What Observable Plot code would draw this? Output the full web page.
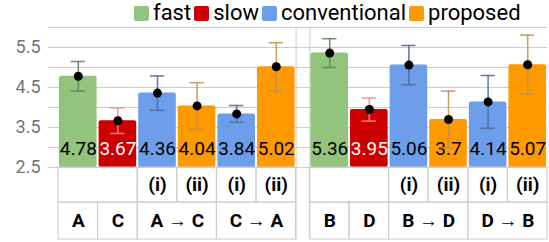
<!DOCTYPE html>
<html><head><meta charset="utf-8">
<script src="https://cdn.jsdelivr.net/npm/d3@7"></script>
<script src="https://cdn.jsdelivr.net/npm/@observablehq/plot@0.6"></script>
<style>
body{margin:0;background:#fff;font-family:Roboto,sans-serif;}
#legend{height:26px;width:549px;display:flex;align-items:center;padding-left:134px;box-sizing:border-box;}
.sw{width:15px;height:15px;border-radius:2px;margin-right:4px;flex:none;}
.lab{font-size:22px;line-height:26px;margin-right:3px;color:#000;white-space:nowrap;}
#chart svg{display:block;}
</style></head><body>
<div id="legend"></div>
<div id="chart"></div>
<script>
const seriesNames = ["fast","slow","conventional","proposed"];
const seriesColors = ["#93c47d","#cc0000","#6d9eeb","#ff9900"];
const errorColors = ["#61805a","#f08c8c","#4d6996","#c0914f"];
const barSeries = ["fast","slow","conventional","proposed","conventional","proposed"];
const leftValues = [4.78,3.67,4.36,4.04,3.84,5.02];
const leftErrors = [0.37,0.32,0.43,0.58,0.21,0.6];
const rightValues = [5.36,3.95,5.06,3.7,4.14,5.07];
const rightErrors = [0.36,0.29,0.49,0.71,0.66,0.74];
const subLabels = ["","(i)","(ii)","(i)","(ii)"];
const subSpans = [2,1,1,1,1];
const leftGroups = ["A","C","A → C","C → A"];
const rightGroups = ["B","D","B → D","D → B"];
const groupSpans = [1,1,2,2];
const yTicks = [2.5,3.5,4.5,5.5];
const gridValues = [2.5,3,3.5,4,4.5,5,5.5,6];

// legend
const leg = document.getElementById("legend");
seriesNames.forEach((s,i)=>{
  const sw=document.createElement("div");sw.className="sw";sw.style.background=seriesColors[i];leg.appendChild(sw);
  const t=document.createElement("div");t.className="lab";t.textContent=s;leg.appendChild(t);
});

// layout (in x-scale units / y-scale units)
const gap = 0.35;
const row1Top = 2.5, row1Bottom = 1.625, row2Bottom = 0.7;
const panels = [
  {values:leftValues, errors:leftErrors, groups:leftGroups, offset:0},
  {values:rightValues, errors:rightErrors, groups:rightGroups, offset:6+gap}
];
const bars = panels.flatMap(p => p.values.map((v,i)=>({
  x1:p.offset+i, x2:p.offset+i+1, xc:p.offset+i+0.5, value:v, err:p.errors[i], series:barSeries[i]
})));
function spanCells(labels, spans, offset, y1, y2){
  let acc = offset;
  return labels.map((l,i)=>{const c={x1:acc,x2:acc+spans[i],y1,y2,label:l};acc+=spans[i];return c;});
}
const cells = panels.flatMap(p => [
  ...spanCells(subLabels, subSpans, p.offset, row1Bottom, row1Top),
  ...spanCells(p.groups, groupSpans, p.offset, row2Bottom, row1Bottom)
]);

const marks = [
  Plot.ruleY(gridValues, {x1:-0.25, x2:12+gap, stroke:"#cccccc", strokeWidth:1}),
  Plot.ruleX([6, 6+gap], {y1:row2Bottom, y2:6, stroke:"#cccccc"}),
  Plot.text(yTicks, {x:0, y:d=>d, text:d=>d.toFixed(1), textAnchor:"end", dx:-18, fontSize:18, fill:"#757575"}),
  Plot.rect(bars, {x1:"x1", x2:"x2", y1:2.5, y2:"value", fill:"series", insetLeft:1, insetRight:1, rx:2}),
  Plot.rect(cells, {x1:"x1", x2:"x2", y1:"y1", y2:"y2", fill:"none", stroke:"#cccccc", strokeWidth:1}),
  Plot.text(cells, {x:d=>(d.x1+d.x2)/2, y:d=>(d.y1+d.y2)/2, text:"label", fontWeight:"bold", fontSize:19, fill:"black"}),
  Plot.text(bars.filter(d=>d.series!=="slow"), {x:"xc", y:2.975, text:d=>String(d.value), fontSize:19, fill:"black"}),
  Plot.text(bars.filter(d=>d.series==="slow"), {x:"xc", y:2.975, text:d=>String(d.value), fontSize:19, fill:"white"}),
];
seriesNames.forEach((s,i)=>{
  const b = bars.filter(d=>d.series===s);
  marks.push(
    Plot.ruleX(b, {x:"xc", y1:d=>d.value-d.err, y2:d=>d.value+d.err, stroke:errorColors[i], strokeWidth:1.6, strokeOpacity:0.85}),
    Plot.ruleY(b, {y:d=>d.value+d.err, x1:d=>d.xc-0.18, x2:d=>d.xc+0.18, stroke:errorColors[i], strokeWidth:1.6, strokeOpacity:0.85}),
    Plot.ruleY(b, {y:d=>d.value-d.err, x1:d=>d.xc-0.18, x2:d=>d.xc+0.18, stroke:errorColors[i], strokeWidth:1.6, strokeOpacity:0.85})
  );
});
marks.push(Plot.dot(bars, {x:"xc", y:"value", r:4.5, fill:"black"}));

const chart = Plot.plot({
  width:549, height:216,
  marginTop:1, marginBottom:75, marginLeft:58, marginRight:2,
  x:{domain:[0,12+gap], axis:null},
  y:{domain:[2.5,6], axis:null},
  color:{domain:seriesNames, range:seriesColors},
  style:{fontFamily:"Roboto, sans-serif", background:"white", overflow:"visible"},
  marks
});
document.getElementById("chart").appendChild(chart);
</script>
</body></html>
